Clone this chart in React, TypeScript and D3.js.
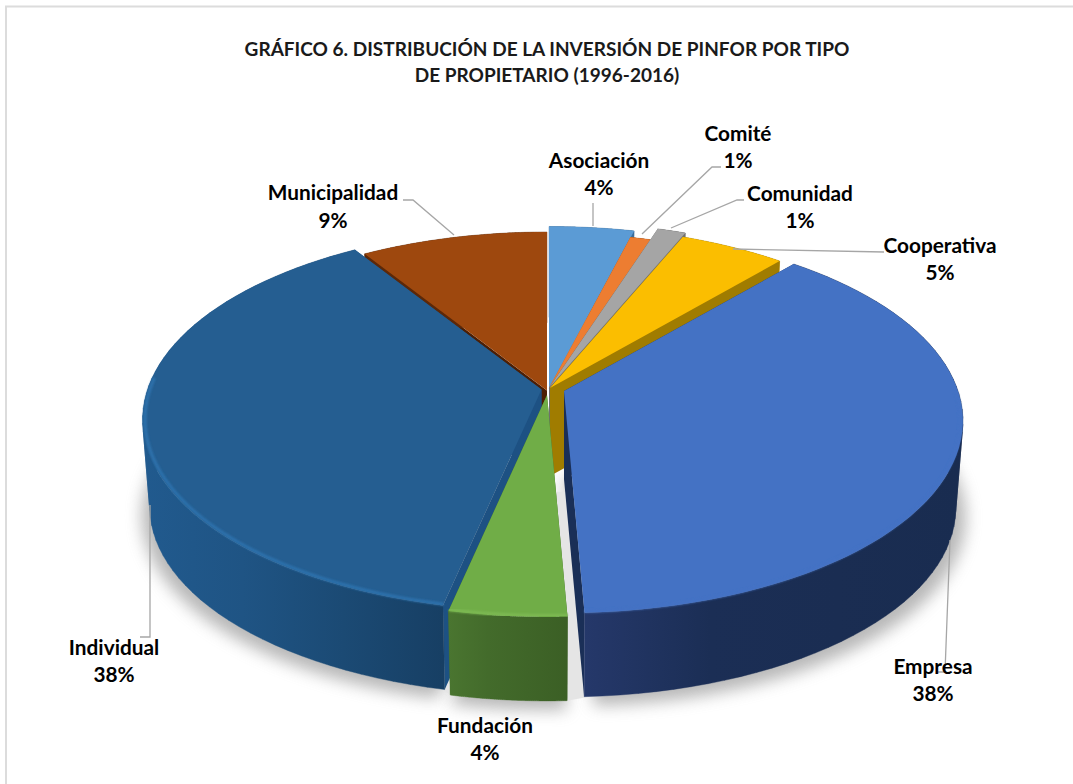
import React from "react";
import * as d3 from "d3";

// ---- data ----
const categories = ["Asociación", "Comité", "Comunidad", "Cooperativa", "Empresa", "Fundación", "Individual", "Municipalidad"];
const shares = [4.0, 1.0, 1.3, 5.0, 38.0, 4.1, 37.6, 9.0];
const titleLines = ["GRÁFICO 6. DISTRIBUCIÓN DE LA INVERSIÓN DE PINFOR POR TIPO", "DE PROPIETARIO (1996-2016)"];

// ---- styling and layout ----
const topColors = ["#5B9BD5", "#ED7D31", "#A5A5A5", "#FBBE00", "#4472C4", "#70AD47", "#255E91", "#9E480E"];
const rimColors = ["#7fb3e2", "#f29a5c", "#bdbdbd", "#ffd040", "#4472C4", "#7fbc55", "#2f74b0", "#b05a1e"];
const sideColors = ["#3a6d9c", "#a5561f", "#6f6f6f", "#a07c00", "#1a2f57", "#3f6628", "#1d5183", "#4c1f05"];
const wallGradients = [
  ["#3a6d9c", "#3a6d9c"], ["#a5561f", "#a5561f"], ["#727272", "#727272"], ["#a07c00", "#a07c00"],
  ["#25386a", "#1b2e55", "#1a2d52", "#192c50"],
  ["#4a7530", "#436b2b", "#3f6528", "#3b5f25"],
  ["#215a8e", "#1f5484", "#1b4a74", "#173f64"],
  ["#5c2808", "#5c2808"],
];
const apexX = [549, 549, 549, 550, 564, 547, 541.5, 547];
const apexY = [388.5, 388, 388, 388, 391, 395, 389.5, 390.5];
const radiusScale = [1, 0.95, 1.03, 1, 1, 1, 1, 0.975];
const paintOrder = [0, 1, 2, 3, 7, 6, 4, 5];
// arc span (in radians, from the top clockwise) that carries a bevel highlight
const rimFrom = Math.PI * 0.5;
const rimTo = Math.PI * 1.52;

// perspective disk: back of the pie is narrower than its front
const DISK_A = 394;
const DISK_B = 187.3;
const DISK_K = 0.156;
const DEPTH = 88;
const BOTTOM_SCALE = 0.982;

type P = [number, number];
const planar = (ang: number, r: number): P => {
  const X = r * Math.sin(ang);
  const Y = r * Math.cos(ang);
  const w = 1 + DISK_K * Y;
  return [(DISK_A * X) / w, (-DISK_B * Y) / w];
};
const topPt = (i: number, ang: number, r: number): P => {
  const [x, y] = planar(ang, r * radiusScale[i]);
  return [apexX[i] + x, apexY[i] + y];
};
const botPt = (i: number, ang: number, r: number): P => {
  const [x, y] = planar(ang, r * radiusScale[i]);
  return [apexX[i] + x * BOTTOM_SCALE, apexY[i] + DEPTH + y * BOTTOM_SCALE];
};

const line = d3.line<P>().x((d) => d[0]).y((d) => d[1]);
const closed = (pts: P[]) => line(pts) + "Z";

const pie = d3.pie<number>().sort(null).value((d) => d);
const arcs = pie(shares);

const arcPts = (f: (i: number, a: number, r: number) => P, i: number, a0: number, a1: number, n = 60): P[] =>
  d3.range(0, n + 1).map((k) => f(i, a0 + ((a1 - a0) * k) / n, 1));

// swept wall: union of consistently wound quads between top and bottom arcs
const sweep = (top: P[], bot: P[]) =>
  d3.range(0, top.length - 1).map((k) => {
    const q: P[] = [top[k], top[k + 1], bot[k + 1], bot[k]];
    return closed(d3.polygonArea(q) < 0 ? [...q].reverse() : q);
  }).join("");

const Font = "Lato, Carlito, 'Open Sans', sans-serif";

type Lab = { i: number; x: number; y1: number; y2: number; leader: P[] };
const labelLayout: Lab[] = [
  { i: 0, x: 599, y1: 168, y2: 195, leader: [[593, 203], [593, 226]] },
  { i: 1, x: 738, y1: 141, y2: 168, leader: [[721, 167], [712, 167], [642, 234]] },
  { i: 2, x: 800, y1: 201, y2: 228, leader: [[744, 200], [737, 200], [671, 228]] },
  { i: 3, x: 940, y1: 253, y2: 280, leader: [[884, 252], [733, 249]] },
  { i: 4, x: 933, y1: 674, y2: 701, leader: [[950, 540], [945, 672], [938, 672]] },
  { i: 5, x: 485, y1: 733, y2: 760, leader: [] },
  { i: 6, x: 114, y1: 655, y2: 682, leader: [[150, 505], [150, 637], [140, 637]] },
  { i: 7, x: 333, y1: 200, y2: 228, leader: [[403, 200], [413, 200], [454, 235]] },
];

export default function App() {
  const fund = arcPts(botPt, 5, arcs[5].startAngle, arcs[5].endAngle);
  const gapPoly: P[] = [
    topPt(6, arcs[6].startAngle, 0.5),
    topPt(4, arcs[4].endAngle, 0.5),
    [fund[0][0] + 22, fund[0][1] - 4],
    ...fund,
    [fund[60][0] - 12, fund[60][1] - 8],
  ];
  return (
    <svg width={1073} height={784} style={{ position: "fixed", left: 0, top: 0, background: "#fff" }}>
      <defs>
        <filter id="shadow" x="-20%" y="-20%" width="140%" height="140%">
          <feGaussianBlur stdDeviation="8" />
        </filter>
        <filter id="rimBlur" x="-5%" y="-5%" width="110%" height="110%">
          <feGaussianBlur stdDeviation="1" />
        </filter>
        {wallGradients.map((g, i) => {
          const xs = arcPts(topPt, i, arcs[i].startAngle, arcs[i].endAngle).map((p) => p[0]);
          return (
            <linearGradient key={i} id={`wall${i}`} gradientUnits="userSpaceOnUse"
              x1={d3.min(xs)} x2={d3.max(xs)} y1={0} y2={0}>
              {g.map((c, k) => (
                <stop key={k} offset={k / (g.length - 1)} stopColor={c} />
              ))}
            </linearGradient>
          );
        })}
      </defs>

      {/* frame */}
      <path d="M1073 6.5H6V784" fill="none" stroke="#dcdcdc" strokeWidth={2} />

      {/* soft shadow beneath the pie */}
      {[4, 5, 6].map((i) => {
        const a = arcs[i];
        const pts = arcPts(botPt, i, a.startAngle, a.endAngle).map((p) => [p[0] + (i === 4 ? 10 : i === 6 ? -8 : 0), p[1] + 9] as P);
        const start: P = [apexX[i], apexY[i] + DEPTH];
        return <path key={i} d={closed([start, ...pts])} fill="#8c8c8c" opacity={0.62} filter="url(#shadow)" />;
      })}
      <path d={closed(gapPoly)} fill="#e5e5e5" />

      {/* slices, painted back to front */}
      {paintOrder.map((i) => {
        const a = arcs[i];
        const apexT: P = [apexX[i], apexY[i]];
        const apexB: P = [apexX[i], apexY[i] + DEPTH];
        const topArc = arcPts(topPt, i, a.startAngle, a.endAngle);
        const botArc = arcPts(botPt, i, a.startAngle, a.endAngle);
        const r0 = Math.max(a.startAngle, rimFrom);
        const r1 = Math.min(a.endAngle, rimTo);
        const rim = r1 > r0
          ? arcPts(topPt, i, r0, r1).map((p) => [apexT[0] + (p[0] - apexT[0]) * 0.994, apexT[1] + (p[1] - apexT[1]) * 0.994] as P)
          : [];
        const wall = `url(#wall${i})`;
        return (
          <g key={i}>
            <path d={closed([apexT, topArc[0], botArc[0], apexB])} fill={sideColors[i]} />
            <path d={closed([apexT, topArc[60], botArc[60], apexB])} fill={sideColors[i]} />
            <path d={sweep(topArc, botArc)} fill={wall} stroke={wall} strokeWidth={0.4} />
            <path d={closed([apexT, ...topArc])} fill={topColors[i]} />
            {rim.length > 0 && (
              <path d={line(rim) ?? ""} fill="none" stroke={rimColors[i]} strokeWidth={3} filter="url(#rimBlur)" opacity={0.9} />
            )}
          </g>
        );
      })}

      {/* leader lines */}
      {labelLayout.filter((l) => l.leader.length).map((l) => (
        <path key={l.i} d={line(l.leader) ?? ""} fill="none" stroke="#a6a6a6" strokeWidth={1.3} />
      ))}

      {/* title */}
      {titleLines.map((t, k) => (
        <text key={k} x={547} y={56 + k * 26} textAnchor="middle" fontFamily={Font} fontWeight={700} fontSize={19.05} fill="#1a1a1a">
          {t}
        </text>
      ))}

      {/* labels */}
      {labelLayout.map((l) => (
        <g key={l.i} fontFamily={Font} fontWeight={700} fontSize={20.8} fill="#000" textAnchor="middle">
          <text x={l.x} y={l.y1}>{categories[l.i]}</text>
          <text x={l.x} y={l.y2}>{`${d3.format(".0f")(shares[l.i])}%`}</text>
        </g>
      ))}
    </svg>
  );
}
